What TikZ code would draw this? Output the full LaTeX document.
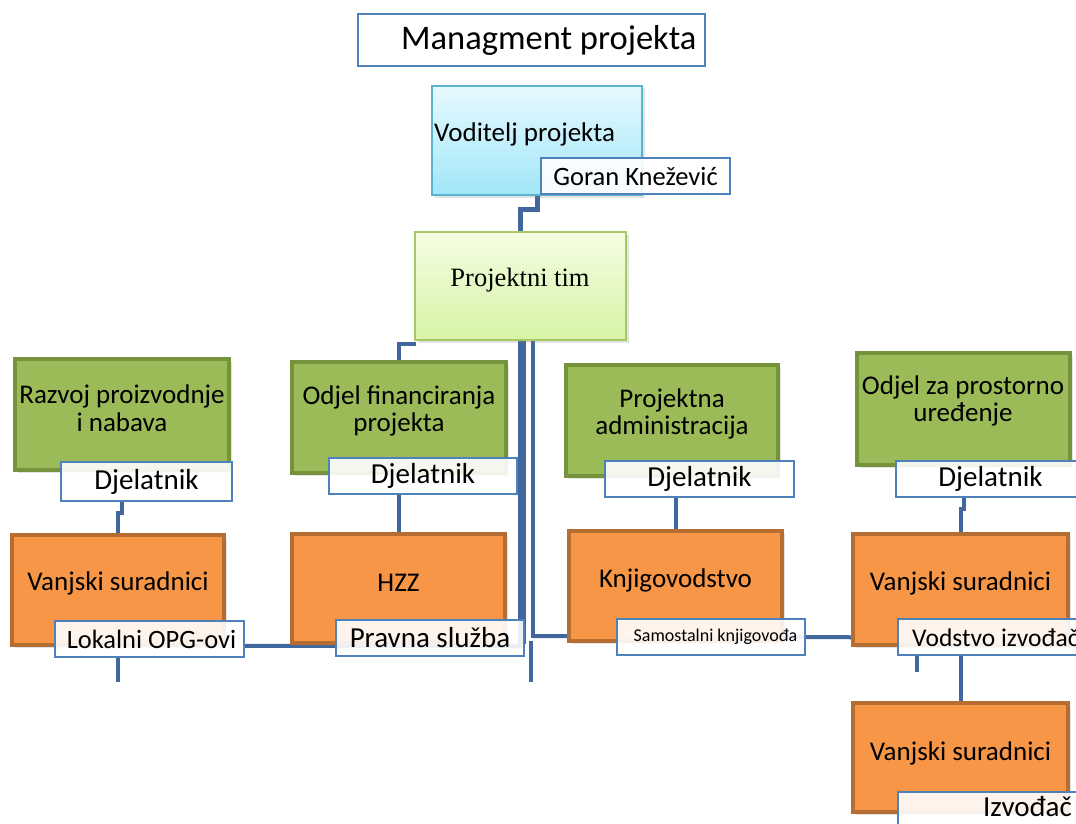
\documentclass[tikz,border=0pt]{standalone}
\usepackage{fontspec}
\setmainfont{Carlito}
\newfontfamily\seriffont{Liberation Serif}
\usetikzlibrary{calc,shadows}
\definecolor{lblue}{HTML}{4F81BD}
\definecolor{connc}{HTML}{41679C}
\definecolor{gfill}{HTML}{9BBB59}
\definecolor{gline}{HTML}{76923C}
\definecolor{ofill}{HTML}{F79646}
\definecolor{oline}{HTML}{B66D31}
\definecolor{ctop}{HTML}{E6FAFF}
\definecolor{cbot}{HTML}{A2E6F8}
\definecolor{cline}{HTML}{5BB3CC}
\definecolor{ytop}{HTML}{F5FDE2}
\definecolor{ybot}{HTML}{D6F4A6}
\definecolor{yline}{HTML}{A6C965}
\pgfdeclarelayer{bg}
\pgfsetlayers{bg,main}
\begin{document}
\begin{tikzpicture}[x=1pt,y=-1pt,
  wh/.style 2 args={minimum width=#1pt, minimum height=#2pt},
  box/.style={draw, rectangle, inner sep=0pt},
  shad/.style={drop shadow={opacity=0.22,shadow xshift=2.5pt,shadow yshift=-2.5pt}},
  greenbox/.style={box, shad, fill=gfill, draw=gline, line width=4.5pt},
  orangebox/.style={box, shad, fill=ofill, draw=oline, line width=4.5pt},
  cyanbox/.style={box, shad, top color=ctop, bottom color=cbot, draw=cline, line width=2pt},
  limebox/.style={box, shad, top color=ytop, bottom color=ybot, draw=yline, line width=2pt},
  lbl/.style={box, fill=white, fill opacity=0.9, text opacity=1, draw=lblue, draw opacity=1, line width=1.6pt},
  txt/.style={inner sep=0pt, align=center, font=\fontsize{27}{27.5}\selectfont},
  big/.style={font=\fontsize{29}{33}\selectfont},
  conn/.style={draw=connc, line width=4pt}
]
\useasboundingbox (0,0) rectangle (1076,824);
\clip (0,0) rectangle (1076,824);

% top
\node[lbl, wh={347}{52}] (title) at (531.5,40) {};
\node[txt, font=\fontsize{34.5}{40}\selectfont, anchor=west] (titleT) at (401,40) {Managment projekta};

\node[cyanbox, wh={210}{109}] (vod) at (537,140.5) {};
\node[txt, anchor=base west] (vodT) at (434,142) {Voditelj projekta};
\node[lbl, wh={189}{36}, font=\fontsize{26.5}{30}\selectfont] (goran) at (635.5,176) {Goran Knežević};

\node[limebox, wh={211}{108}] (pt) at (520.5,286) {};
\node[txt, font=\fontsize{26.5}{30}\seriffont] (ptT) at (520,280) {Projektni tim};

% green boxes
\node[greenbox, wh={214}{111}] (g1) at (122,414.5) {};
\node[greenbox, wh={214}{111}] (g2) at (399,417.5) {};
\node[greenbox, wh={212}{111}] (g3) at (672,420.5) {};
\node[greenbox, wh={213}{112}] (g4) at (963.5,409) {};
\node[txt] (g1T) at (122,408) {Razvoj proizvodnje\\i nabava};
\node[txt] (g2T) at (399,411) {Odjel financiranja\\projekta};
\node[txt] (g3T) at (672,414) {Projektna\\administracija};
\node[txt] (g4T) at (963,401) {Odjel za prostorno\\uređenje};

% orange boxes
\node[orangebox, wh={212}{110}] (o1) at (118,590) {};
\node[orangebox, wh={213}{109}] (o2) at (398.5,588.5) {};
\node[orangebox, wh={213}{110}] (o3) at (675.5,586) {};
\node[orangebox, wh={215}{111}] (o4) at (960.5,589.5) {};
\node[orangebox, wh={215}{109}] (o5) at (960.5,757.5) {};
\node[txt] (o1T) at (118,583) {Vanjski suradnici};
\node[txt] (o2T) at (398.5,583) {HZZ};
\node[txt] (o3T) at (675.5,580) {Knjigovodstvo};
\node[txt] (o4T) at (960.5,583) {Vanjski suradnici};
\node[txt] (o5T) at (960.5,753) {Vanjski suradnici};

% labels
\node[lbl, wh={171}{39}, big] (d1) at (146.5,481.5) {Djelatnik};
\node[lbl, wh={188}{36}, big] (d2) at (423,476) {Djelatnik};
\node[lbl, wh={189}{36}, big] (d3) at (699.5,479) {Djelatnik};
\node[lbl, wh={189}{36}, big] (d4) at (990.5,479) {Djelatnik};
\node[lbl, wh={189}{36}, font=\fontsize{26.5}{30}\selectfont] (l1) at (149.5,639) {\hspace*{4pt}Lokalni OPG-ovi};
\node[lbl, wh={188}{36}, big] (ps) at (430,638) {Pravna služba};
\node[lbl, wh={188}{36}, font=\fontsize{18}{21}\selectfont] (sk) at (711,637) {\hspace*{9pt}Samostalni knjigovođa};
\node[lbl, wh={189}{36}] (v4) at (992.5,637) {};
\node[txt, font=\fontsize{25.5}{29}\selectfont, anchor=west] (v4T) at (912,638) {Vodstvo izvođača};
\node[lbl, wh={189}{36}] (iz) at (992.5,810) {};
\node[txt, big, anchor=base east] (izT) at (1072,816) {Izvođač};

% connectors
\begin{pgfonlayer}{bg}
\draw[conn, line width=5pt] (vod.south) -- ++(0,13) -| (pt.north);
\draw[conn, line width=3.5pt] ($(pt.south west)+(2,3)$) -| (g2.north);
\draw[conn, line width=8pt] ($(pt.south)+(1.5,0)$) -- ++(0,303);
\draw[conn] ($(pt.south)+(12.5,0)$) -- ++(0,297);
\draw[conn] ($(pt.south)+(12.5,295)$) -- ($(o4.south west)+(0,-10)$);
\draw[conn] ($(pt.south)+(10,300)$) -- ++(0,41);
\draw[conn] ($(l1.south east)+(0,-12)$) -- ($(pt.south)+(1.5,305)$);
\draw[conn] (g1.center |- d1.south) -- ++(0,11) -| (o1.north);
\draw[conn] (g2.center |- d2.south) -| (o2.north);
\draw[conn] ($(g3.center |- d3.south)+(4,0)$) -- ++(0,11) -| (o3.north);
\draw[conn] (g4.center |- d4.south) -- ++(0,11) -| (o4.north);
\draw[conn] (o1.center |- l1.south) -- ++(0,24);
\draw[conn] (o4.center |- v4.south) -- (o5.north);
\draw[conn] ($(v4.south west)+(20,0)$) -- ++(0,16);
\end{pgfonlayer}
\end{tikzpicture}
\end{document}
